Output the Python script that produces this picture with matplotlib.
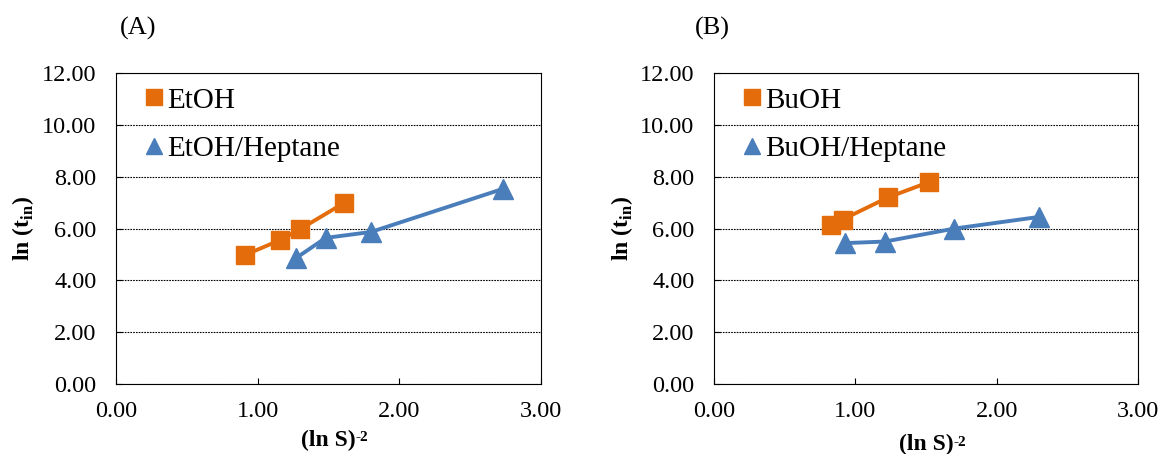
import matplotlib.pyplot as plt
from matplotlib.lines import Line2D
from matplotlib.ticker import FormatStrFormatter

# Panel A data
etoh_x = [0.91, 1.16, 1.30, 1.61]
etoh_y = [4.98, 5.56, 5.98, 6.99]
etoh_hep_x = [1.27, 1.48, 1.80, 2.73]
etoh_hep_y = [4.86, 5.64, 5.87, 7.53]

# Panel B data
buoh_x = [0.83, 0.91, 1.23, 1.52]
buoh_y = [6.13, 6.35, 7.20, 7.79]
buoh_hep_x = [0.93, 1.21, 1.70, 2.30]
buoh_hep_y = [5.44, 5.50, 6.00, 6.45]

orange = "#E46C0A"
blue = "#4A7EBB"

plt.rcParams["font.family"] = ["Liberation Serif", "DejaVu Serif"]
plt.rcParams["mathtext.fontset"] = "custom"
plt.rcParams["mathtext.rm"] = "Liberation Serif"
plt.rcParams["mathtext.bf"] = "Liberation Serif:bold"

fig = plt.figure(figsize=(11.62, 4.54), dpi=100)
axA = fig.add_axes([0.0998, 0.154, 0.3658, 0.685])
axB = fig.add_axes([0.6145, 0.154, 0.3648, 0.685])

panels = [
    (axA, "(A)", 0.01, etoh_x, etoh_y, "EtOH", etoh_hep_x, etoh_hep_y, "EtOH/Heptane", -0.182),
    (axB, "(B)", -0.045, buoh_x, buoh_y, "BuOH", buoh_hep_x, buoh_hep_y, "BuOH/Heptane", -0.195),
]

for ax, tag, tag_x, x1, y1, n1, x2, y2, n2, xl_y in panels:
    ax.plot(x1, y1, color=orange, marker="s", markersize=13, lw=2.8)
    ax.plot(x2, y2, color=blue, marker="^", markersize=14.5, lw=2.8)
    ax.set_xlim(0, 3)
    ax.set_ylim(0, 12)
    ax.set_xticks([0, 1, 2, 3])
    ax.set_yticks([0, 2, 4, 6, 8, 10, 12])
    ax.xaxis.set_major_formatter(FormatStrFormatter("%.2f"))
    ax.yaxis.set_major_formatter(FormatStrFormatter("%.2f"))
    ax.tick_params(direction="in", length=4, labelsize=17.5, width=0.8)
    ax.tick_params(axis="x", pad=12.5)
    ax.tick_params(axis="y", pad=14)
    ax.grid(axis="y", color="black", linestyle=(0, (1.5, 1)), linewidth=0.8)
    for s in ax.spines.values():
        s.set_linewidth(0.8)
    ax.set_ylabel(r"ln (t$_{\mathbf{in}}$)", fontsize=17, fontweight="bold", labelpad=4)

    # x label with a hyphen superscript
    t = ax.text(0.5, xl_y, "(ln S)", transform=ax.transAxes, fontsize=17,
                fontweight="bold", ha="center", va="center")
    ax.annotate("-2", xy=(1.0, 1.0), xycoords=t, xytext=(0, -1),
                textcoords="offset points", fontsize=11, fontweight="bold",
                ha="left", va="top")

    handles = [
        Line2D([], [], color=orange, marker="s", markersize=12, linestyle="none"),
        Line2D([], [], color=blue, marker="^", markersize=12, linestyle="none"),
    ]
    ax.legend(handles, [n1, n2], loc="upper left", frameon=False, fontsize=21,
              handlelength=0.6, handletextpad=0.15, labelspacing=0.75,
              borderpad=0, borderaxespad=0, bbox_to_anchor=(0.07, 0.955))
    ax.text(tag_x, 1.142, tag, transform=ax.transAxes, fontsize=19, va="center")

fig.savefig("out.png", dpi=100)
